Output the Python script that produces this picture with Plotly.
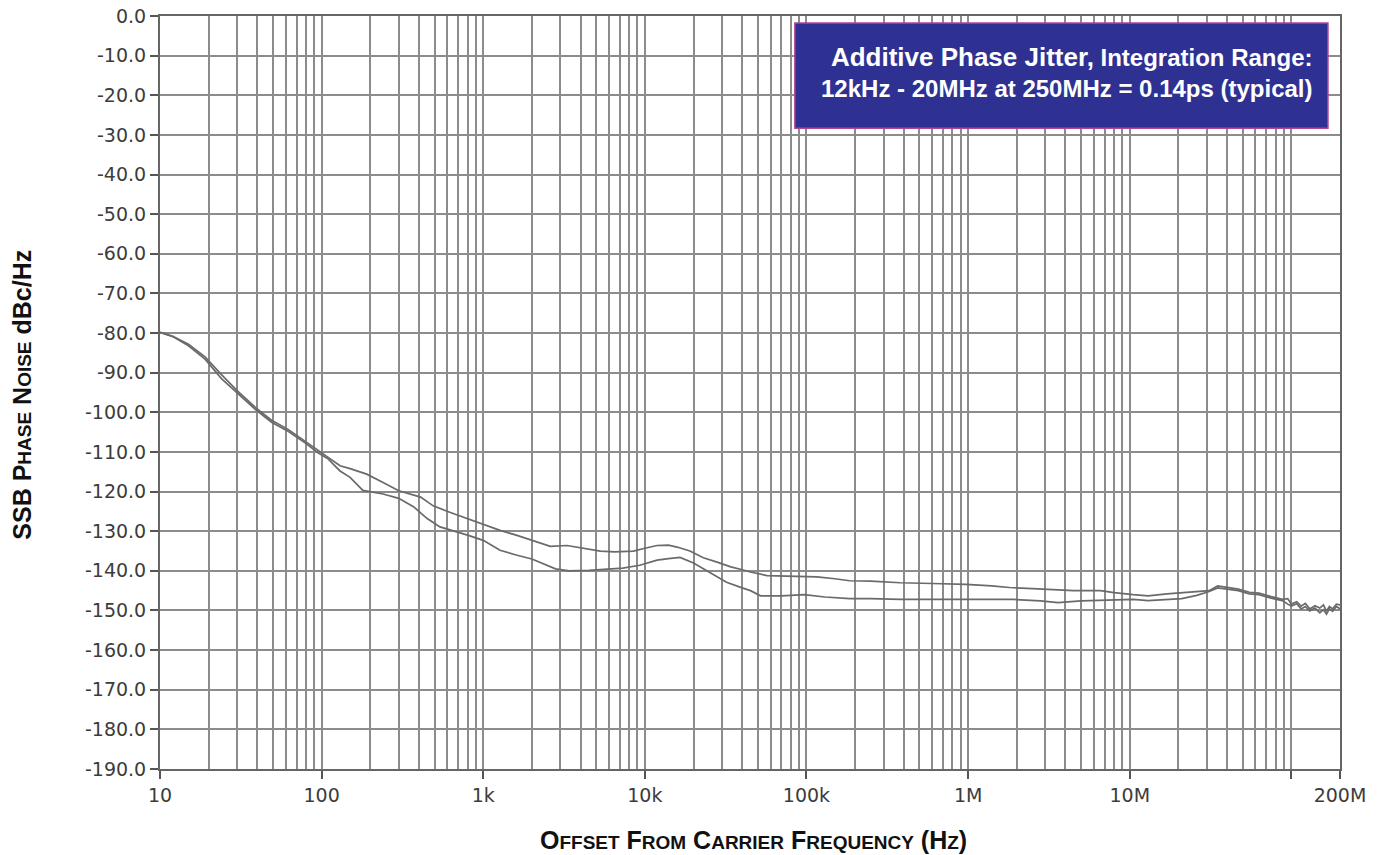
import plotly.graph_objects as go

# ---- data ----
freq_a = [10, 12, 15, 19, 24, 30, 39, 49, 62, 79, 95, 110, 130, 150, 190, 240, 300, 410, 490, 620,
          870, 1000, 1270, 1600, 2000, 2600, 3300, 4200, 5300, 6500, 8500, 10000, 11900, 14000, 15800,
          19000, 23000, 28000, 34000, 39000, 45000, 57000, 80000, 116000, 150000, 185000, 250000,
          380000, 600000, 970000, 1.4e6, 1.8e6, 2.5e6, 3.2e6, 4.5e6, 6.6e6, 8e6, 10.5e6, 13e6, 17e6,
          21e6, 26e6, 31e6, 35e6, 40e6, 47e6, 55e6, 63e6, 75e6, 88e6, 95e6, 100e6, 108e6, 115e6,
          122e6, 130e6, 140e6, 150e6, 158e6, 165e6, 172e6, 180e6, 190e6, 200e6]
noise_a = [-79.8, -80.8, -82.8, -86.0, -90.5, -94.5, -98.8, -102.0, -104.3, -107.3, -109.8, -111.5,
           -113.5, -114.2, -115.6, -117.7, -119.8, -121.4, -123.6, -125.2, -127.3, -128.3, -129.8,
           -131.0, -132.3, -133.8, -133.6, -134.4, -135.0, -135.2, -135.0, -134.3, -133.6, -133.5,
           -134.0, -135.0, -136.7, -137.8, -139.0, -139.6, -140.3, -141.2, -141.3, -141.5, -142.0,
           -142.5, -142.6, -143.0, -143.2, -143.4, -143.8, -144.2, -144.5, -144.7, -145.0, -145.0,
           -145.5, -146.0, -146.3, -145.8, -145.5, -145.2, -145.0, -143.8, -144.2, -144.6, -145.4,
           -145.6, -146.5, -147.2, -147.0, -148.4, -147.8, -148.9, -148.2, -149.6, -148.8, -149.4,
           -148.6, -150.2, -149.0, -149.6, -148.4, -148.6]

freq_b = [10, 12, 15, 19, 24, 30, 39, 49, 62, 79, 95, 110, 130, 150, 180, 240, 300, 370, 450, 540,
          620, 800, 1000, 1270, 1600, 2000, 2800, 3400, 4500, 5300, 7300, 9300, 11900, 14000, 16500,
          20000, 25500, 32000, 40000, 45000, 52000, 70000, 97000, 130000, 185000, 250000, 380000,
          600000, 970000, 1.9e6, 2.8e6, 3.6e6, 5e6, 6.6e6, 10.5e6, 13e6, 17e6, 21e6, 26e6, 31e6,
          35e6, 40e6, 47e6, 55e6, 63e6, 75e6, 88e6, 95e6, 100e6, 108e6, 115e6, 122e6, 130e6, 140e6,
          150e6, 158e6, 165e6, 172e6, 180e6, 190e6, 200e6]
noise_b = [-79.8, -80.9, -83.2, -86.6, -91.5, -95.2, -99.3, -102.5, -104.8, -107.7, -110.2, -111.8,
           -114.8, -116.4, -119.7, -120.6, -121.7, -123.8, -126.8, -128.9, -129.6, -131.0, -132.3,
           -134.8, -136.0, -137.0, -139.5, -140.0, -139.9, -139.7, -139.3, -138.6, -137.3, -136.9,
           -136.6, -138.0, -140.6, -142.9, -144.3, -145.0, -146.3, -146.3, -146.0, -146.6, -147.0,
           -147.0, -147.2, -147.2, -147.2, -147.2, -147.6, -148.0, -147.6, -147.4, -147.2, -147.5,
           -147.3, -147.0, -146.2, -145.2, -144.3, -144.6, -145.0, -145.8, -146.0, -146.9, -147.5,
           -148.4, -148.9, -148.3, -149.6, -149.0, -150.1, -149.4, -150.6, -149.8, -150.9, -149.6,
           -150.2, -149.0, -149.6]

x_tick_vals = [10, 100, 1e3, 1e4, 1e5, 1e6, 1e7, 1e8, 2e8]
x_tick_text = ["10", "100", "1k", "10k", "100k", "1M", "10M", "", "200M"]
y_tick_vals = list(range(0, -200, -10))
y_tick_text = [f"{v:.1f}" for v in y_tick_vals]

minor_vals = [m * 10 ** e for e in range(1, 9) for m in range(1, 10) if m * 10 ** e <= 2e8]

line_color = "#6a6a6a"
grid_color = "#8c8c8c"
sc = "font-size:19px"

fig = go.Figure()
fig.add_trace(go.Scatter(x=freq_a, y=noise_a, mode="lines",
                         line=dict(color=line_color, width=1.7), showlegend=False))
fig.add_trace(go.Scatter(x=freq_b, y=noise_b, mode="lines",
                         line=dict(color=line_color, width=1.7), showlegend=False))

tickfont = dict(family="DejaVu Sans", size=19, color="#3c3c3c")

fig.update_layout(
    width=1377, height=855,
    margin=dict(l=160, r=37, t=16, b=86),
    plot_bgcolor="white", paper_bgcolor="white",
    font=dict(family="DejaVu Sans", color="#333333", size=19),
    xaxis=dict(
        type="log", range=[1, 8.30103], automargin=False,
        tickvals=x_tick_vals, ticktext=x_tick_text,
        ticks="outside", ticklen=8, tickwidth=2, tickcolor="#555555",
        showgrid=False, zeroline=False,
        showline=True, linecolor="#666666", linewidth=2, mirror=True,
        tickfont=tickfont,
        minor=dict(tickvals=minor_vals, showgrid=True, gridcolor=grid_color, gridwidth=2, ticks=""),
    ),
    yaxis=dict(
        range=[-190, 0], automargin=False,
        tickvals=y_tick_vals, ticktext=y_tick_text,
        ticks="outside", ticklen=8, tickwidth=2, tickcolor="#555555",
        showgrid=True, gridcolor=grid_color, gridwidth=2, zeroline=False,
        showline=True, linecolor="#666666", linewidth=2, mirror=True,
        tickfont=tickfont,
    ),
)

title_font = dict(family="Liberation Sans", size=25, color="#111111")
fig.add_annotation(
    xref="paper", yref="paper", x=0.503, y=-0.094, xanchor="center", yanchor="middle",
    showarrow=False, font=title_font,
    text=(f"<b>O<span style='{sc}'>FFSET</span> F<span style='{sc}'>ROM</span> "
          f"C<span style='{sc}'>ARRIER</span> F<span style='{sc}'>REQUENCY</span> (H<span style='{sc}'>Z</span>)</b>"),
)
fig.add_annotation(
    xref="paper", yref="paper", x=-0.117, y=0.497, xanchor="center", yanchor="middle",
    showarrow=False, textangle=-90, font=title_font,
    text=f"<b>SSB P<span style='{sc}'>HASE</span> N<span style='{sc}'>OISE</span> dBc/Hz</b>",
)

fig.add_shape(type="rect", xref="paper", yref="paper",
              x0=0.538, x1=0.9898, y0=0.851, y1=0.9907,
              fillcolor="#2e3192", line=dict(color="#b0459a", width=1.5), layer="above")
fig.add_annotation(
    xref="paper", yref="paper", x=0.9788, y=0.926, xanchor="right", yanchor="middle",
    align="right", showarrow=False,
    text=("<b><span style='font-size:26px'>Additive Phase Jitter,</span> Integration Range:</b><br>"
          "<b>12kHz - 20MHz at 250MHz = 0.14ps (typical)</b>"),
    font=dict(family="Liberation Sans", size=24, color="white"),
)

fig.write_html("out.html", config={"displayModeBar": False},
               post_script="document.body.style.margin='0';")
